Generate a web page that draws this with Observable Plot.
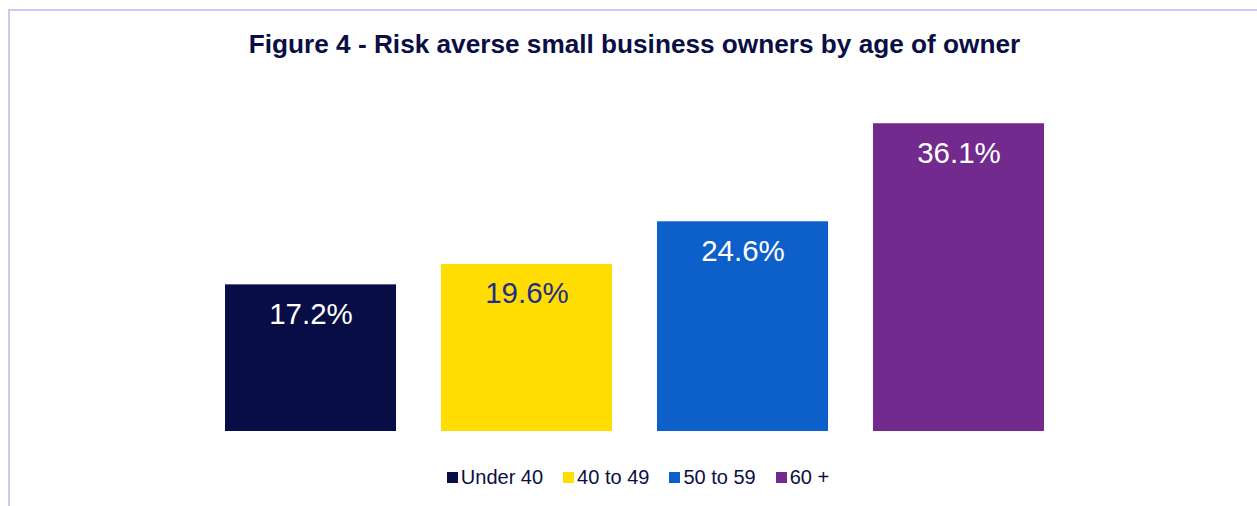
<!DOCTYPE html>
<html>
<head>
<meta charset="utf-8">
<script src="https://cdn.jsdelivr.net/npm/d3@7"></script>
<script src="https://cdn.jsdelivr.net/npm/@observablehq/plot@0.6"></script>
<style>
  html, body { margin: 0; padding: 0; background: #fff; width: 1257px; height: 506px; overflow: hidden; }
  body { position: relative; font-family: "Liberation Sans", Arial, Helvetica, sans-serif; }
  #frame { position: absolute; left: 8px; top: 9px; width: 1300px; height: 600px; border: 2px solid #c9cbf3; box-sizing: border-box; }
  #title { position: absolute; left: 0; top: 29px; width: 1269px; text-align: center; font-weight: bold; font-size: 26.2px; color: #0a0e45; line-height: 30px; }
  #chart { position: absolute; left: 0; top: 80px; }
  #legend { position: absolute; left: 0; top: 465px; width: 1276px; display: flex; justify-content: center; font-size: 20px; line-height: 24px; color: #0a0e45; }
  .item { display: flex; align-items: center; margin: 0 10px; }
  .sw { width: 11px; height: 11px; margin-right: 3px; margin-top: 1px; }
</style>
</head>
<body>
<div id="frame"></div>
<div id="title">Figure 4 - Risk averse small business owners by age of owner</div>
<div id="chart"></div>
<div id="legend"></div>
<script>
const categories = ["Under 40", "40 to 49", "50 to 59", "60 +"];
const values = [17.2, 19.6, 24.6, 36.1];
const colors = ["#090d45", "#ffdd00", "#0d5fca", "#722a8f"];
const labelColors = ["#ffffff", "#1f2d8c", "#ffffff", "#ffffff"];

const data = categories.map((c, i) => ({ category: c, value: values[i], label: values[i].toFixed(1) + "%", lc: labelColors[i] }));

const chart = Plot.plot({
  width: 1257,
  height: 380,
  marginLeft: 178.5,
  marginRight: 166.5,
  marginTop: 10,
  marginBottom: 29,
  x: { domain: categories, padding: 0.21, axis: null },
  y: { domain: [0, 40], axis: null },
  color: { domain: categories, range: colors },
  style: { fontFamily: "'Liberation Sans', Arial, sans-serif", background: "transparent" },
  marks: [
    Plot.barY(data, { x: "category", y: "value", fill: "category" }),
    Plot.text(data, { x: "category", y: "value", text: "label", fill: "lc", lineAnchor: "top", dy: 18, fontSize: 29.5 })
  ]
});
document.getElementById("chart").appendChild(chart);

const legend = document.getElementById("legend");
categories.forEach((c, i) => {
  const item = document.createElement("div");
  item.className = "item";
  const sw = document.createElement("span");
  sw.className = "sw";
  sw.style.background = colors[i];
  const t = document.createElement("span");
  t.textContent = c;
  item.appendChild(sw);
  item.appendChild(t);
  legend.appendChild(item);
});
</script>
</body>
</html>
